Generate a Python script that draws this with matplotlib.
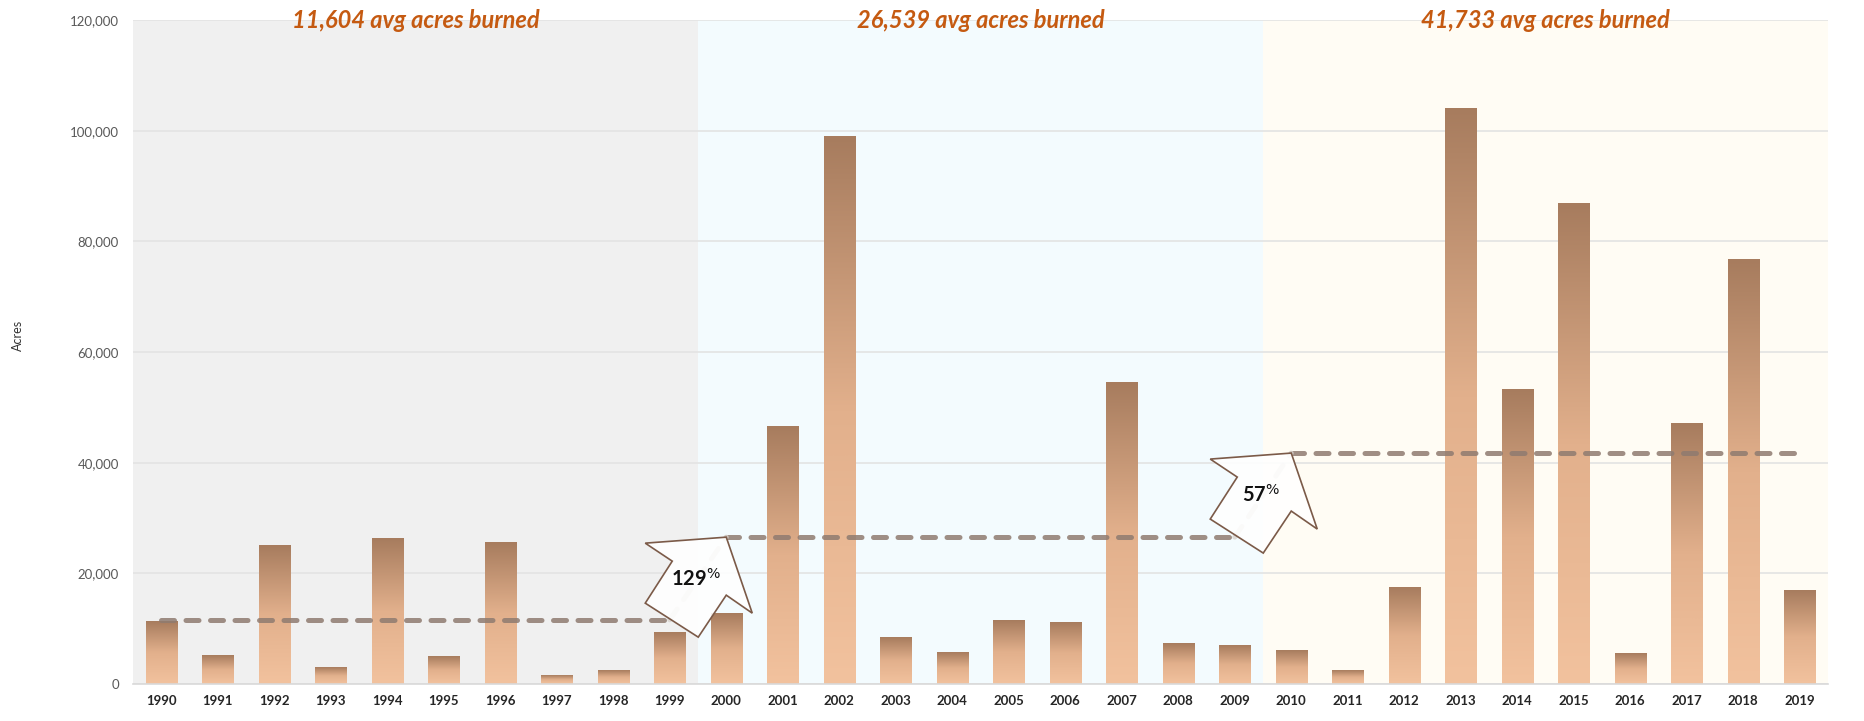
import numpy as np
import matplotlib
matplotlib.use("Agg")
import matplotlib.pyplot as plt
import matplotlib.transforms as mtransforms
from matplotlib.patches import Polygon, Rectangle
from matplotlib.colors import LinearSegmentedColormap
from matplotlib.ticker import FuncFormatter

# ---------------- data ----------------
years = list(range(1990, 2020))
acres = [11300, 5100, 25000, 2900, 26300, 4950, 25600, 1550, 2500, 9300,
         12700, 46500, 99000, 8450, 5750, 11400, 11100, 54500, 7250, 6900,
         6000, 2450, 17400, 104000, 53200, 86800, 5450, 47000, 76700, 16900]
period_avgs = [11604, 26539, 41733]
period_titles = ["11,604 avg acres burned", "26,539 avg acres burned", "41,733 avg acres burned"]
pct_labels = ["129", "57"]
period_bg = ["#f0f0f0", "#f3fbfe", "#fffcf4"]
y_ticks = [0, 20000, 40000, 60000, 80000, 100000, 120000]

W, H, DPI = 1865, 721, 100
fig = plt.figure(figsize=(W / DPI, H / DPI), dpi=DPI)
plt.rcParams['font.family'] = ['Lato', 'DejaVu Sans']
ax = fig.add_axes([133 / W, 1 - 684 / H, (1828 - 133) / W, (684 - 20) / H])

x = np.arange(len(years))

# period backgrounds
for i, c in enumerate(period_bg):
    ax.axvspan(i * 10 - 0.5, i * 10 + 9.5, color=c, zorder=0, lw=0)

# grid
ax.set_yticks(y_ticks)
ax.yaxis.grid(True, color="#e3e3e3", lw=1.2, zorder=0.5)
ax.set_axisbelow(True)

# bars with vertical gradient
cmap = LinearSegmentedColormap.from_list("brn", ["#f2c29e", "#e2b08c", "#a77c5e"])
grad = np.linspace(0, 1, 256).reshape(-1, 1)
bars = ax.bar(x, acres, width=0.55, color="none", edgecolor="none", zorder=2)
for b in bars:
    bx, bw, bh = b.get_x(), b.get_width(), b.get_height()
    ax.add_patch(Rectangle((bx + 0.02, 0), bw, bh, facecolor="#000000", alpha=0.08,
                           lw=0, zorder=1.9))
    ax.imshow(grad, extent=[bx, bx + bw, 0, bh], origin="lower", cmap=cmap,
              aspect="auto", zorder=2, interpolation="bicubic")
ax.set_xlim(-0.5, len(years) - 0.5)
ax.set_ylim(0, 120000)

# average lines
for i, avg in enumerate(period_avgs):
    xs = [x[i * 10], x[i * 10 + 9]]
    ax.plot(xs, [avg, avg], color="#8f7b70", alpha=0.85, lw=3.6,
            dashes=(2.6, 2.3), solid_capstyle="round", dash_capstyle="round", zorder=3)
# faint connectors
for i in range(2):
    ax.plot([x[i * 10 + 9], x[i * 10 + 10]], [period_avgs[i], period_avgs[i + 1]],
            color="#d8d2cc", alpha=0.8, lw=3.6, dashes=(2.6, 2.3),
            dash_capstyle="round", zorder=3)

# block arrows (shape in pixel offsets from the tip)
arrow_shape = np.array([[0, 0], [26, -76], [0, -58], [-28, -100], [-81, -66],
                        [-54, -24], [-81, -6]]) / DPI
for i in range(2):
    tip_x = x[(i + 1) * 10]
    tip_y = period_avgs[i + 1]
    tr = fig.dpi_scale_trans + mtransforms.ScaledTranslation(tip_x, tip_y, ax.transData)
    poly = Polygon(arrow_shape, closed=True, facecolor="white", alpha=0.88,
                   edgecolor="none", transform=tr, zorder=4)
    ax.add_patch(poly)
    poly2 = Polygon(arrow_shape, closed=True, facecolor="none",
                    edgecolor="#7b5a48", lw=1.2, transform=tr, zorder=4.1)
    ax.add_patch(poly2)
    ax.text(-0.30, -0.42, pct_labels[i] + r"$^{\%}$", transform=tr, ha="center",
            va="center", fontsize=14.5, fontweight="bold", color="#111111", zorder=5)

# period titles
for i, t in enumerate(period_titles):
    ax.text(i * 10 + 4.5, 120000, t, ha="center", va="center", fontsize=17,
            fontweight="bold", fontstyle="italic", color="#c55a11", zorder=6)

# axes styling
for s in ["top", "right", "left"]:
    ax.spines[s].set_visible(False)
ax.spines["bottom"].set_color("#d9d9d9")
ax.spines["bottom"].set_linewidth(1.2)
ax.set_xticks(x)
ax.set_xticklabels([str(y) for y in years], fontsize=9.5, fontweight="bold", color="#262626")
ax.yaxis.set_major_formatter(FuncFormatter(lambda v, p: f"{int(v):,}"))
ax.tick_params(axis="y", length=0, labelsize=9.5, labelcolor="#595959", pad=10)
ax.tick_params(axis="x", length=0, pad=8)
fig.text(18 / W, 1 - 335 / H, "Acres", rotation=90, ha="center", va="center",
         fontsize=9, color="#333333")

fig.savefig("out.png", dpi=DPI)
